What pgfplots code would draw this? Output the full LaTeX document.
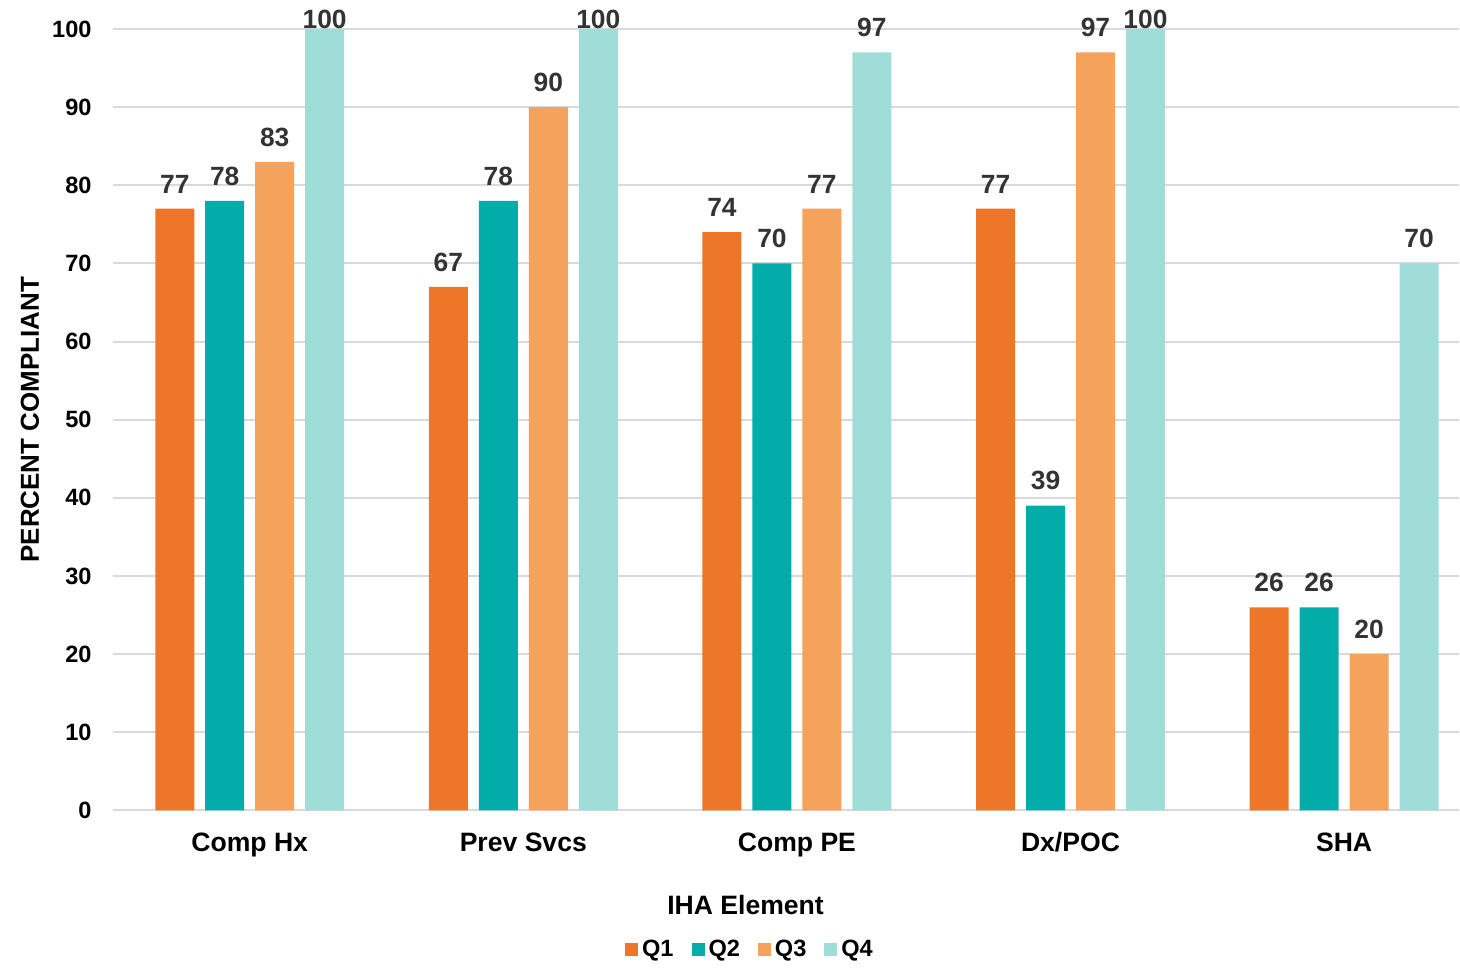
\documentclass[border=0pt]{standalone}
\usepackage{fontspec}
\setmainfont{Liberation Sans}
\usepackage{pgfplots}
\pgfplotsset{compat=1.18}
\definecolor{cQ1}{HTML}{EE7628}
\definecolor{cQ2}{HTML}{02ADA9}
\definecolor{cQ3}{HTML}{F5A25D}
\definecolor{cQ4}{HTML}{A0DDD9}
\definecolor{gridc}{HTML}{D9D9D9}
\definecolor{lab}{HTML}{333333}
\begin{document}
\begin{tikzpicture}
\begin{axis}[
 scale only axis, width=673.5pt, height=391pt,
 ybar=5.5pt, bar width=19.5pt,
 xmin=-0.5, xmax=4.42, ymin=0, ymax=100,
 clip=false,
 xtick={0,1,2,3,4}, xticklabels={Comp Hx, Prev Svcs, Comp PE, Dx/POC, SHA},
 ytick={0,10,...,100},
 ymajorgrids, grid style={gridc, line width=1pt},
 axis line style={draw=none},
 major tick length=0pt,
 /pgf/number format/assume math mode=true,
 yticklabel style={font=\fontsize{11.8}{13}\selectfont\bfseries, anchor=east, inner sep=0pt, xshift=-10.5pt},
 xticklabel style={font=\fontsize{13.3}{15}\selectfont\bfseries, anchor=base, inner sep=0pt, yshift=-20.5pt},
 xlabel={IHA Element},
 xlabel style={font=\fontsize{13.3}{15}\selectfont\bfseries, at={(axis description cs:0.47,0)}, anchor=base, inner sep=0pt, yshift=-52pt},
 ylabel={PERCENT COMPLIANT},
 ylabel style={font=\fontsize{13}{15}\selectfont\bfseries, at={(axis description cs:-0.0616,0.5)}, anchor=center, inner sep=0pt},
 nodes near coords,
 visualization depends on={rawy \as \rawy},
 every node near coord/.append style={font=\fontsize{13.2}{15}\selectfont\bfseries, text=lab, anchor=south, inner sep=0pt, yshift={7.5-7.5*(\rawy>99)}},
 legend image code/.code={\fill[#1,draw=none] (0pt,-3.25pt) rectangle (6.5pt,3.25pt);},
 legend columns=4,
 legend style={at={(axis description cs:0.474,0)}, anchor=center, yshift=-69.5pt, draw=none, fill=none,
   font=\fontsize{11.8}{13}\selectfont\bfseries,
   /tikz/every even column/.append style={column sep=7pt},
   /tikz/every odd column/.append style={column sep=0pt}},
]
\addplot[fill=cQ1, draw=none] coordinates {(0,77) (1,67) (2,74) (3,77) (4,26)};
\addplot[fill=cQ2, draw=none] coordinates {(0,78) (1,78) (2,70) (3,39) (4,26)};
\addplot[fill=cQ3, draw=none] coordinates {(0,83) (1,90) (2,77) (3,97) (4,20)};
\addplot[fill=cQ4, draw=none] coordinates {(0,100) (1,100) (2,97) (3,100) (4,70)};
\legend{Q1,Q2,Q3,Q4}
\end{axis}
\path ([xshift=-56.5pt,yshift=14.5pt]current axis.north west) rectangle ([yshift=-74.5pt]current axis.south east);
\end{tikzpicture}
\end{document}
